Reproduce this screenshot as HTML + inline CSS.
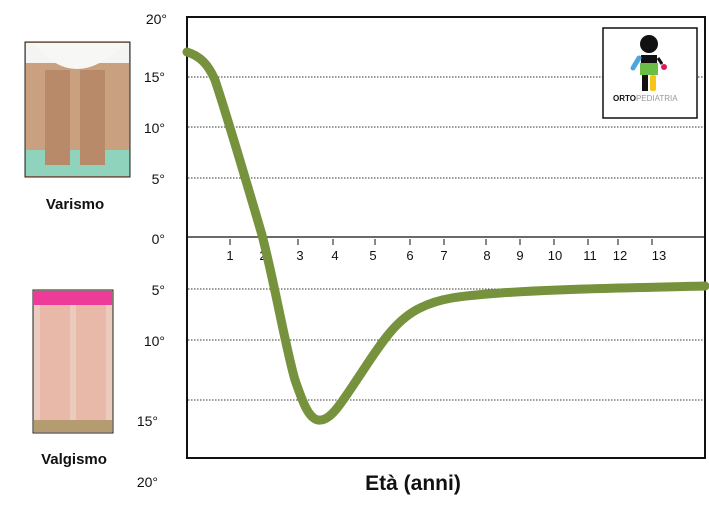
<!DOCTYPE html>
<html><head><meta charset="utf-8"><style>
body{margin:0;width:709px;height:514px;background:#fff;overflow:hidden;font-family:"Liberation Sans",sans-serif;}
</style></head><body>
<svg width="709" height="514" viewBox="0 0 709 514" xmlns="http://www.w3.org/2000/svg" font-family="Liberation Sans, sans-serif">
<!-- photo 1 -->
<rect x="25" y="42" width="105" height="135" fill="#c9a080" stroke="#222" stroke-width="1"/>
<rect x="26" y="43" width="103" height="20" fill="#f4f4f2"/>
<path d="M33 43 Q75 95 125 43 Z" fill="#f7f7f5"/>
<rect x="26" y="150" width="103" height="26" fill="#8fd3bd"/>
<rect x="45" y="70" width="25" height="95" fill="#b98a6a"/>
<rect x="80" y="70" width="25" height="95" fill="#b98a6a"/>
<text x="75" y="209" font-size="15" font-weight="bold" text-anchor="middle" fill="#111">Varismo</text>
<!-- photo 2 -->
<rect x="33" y="290" width="80" height="143" fill="#eacbbd" stroke="#222" stroke-width="1"/>
<rect x="34" y="291" width="78" height="14" fill="#ee3b9a"/>
<rect x="34" y="420" width="78" height="12" fill="#b59b70"/>
<rect x="40" y="305" width="30" height="115" fill="#e8b9a8"/>
<rect x="76" y="305" width="30" height="115" fill="#e8b9a8"/>
<text x="74" y="464" font-size="15" font-weight="bold" text-anchor="middle" fill="#111">Valgismo</text>
<!-- grid -->
<g stroke="#333" stroke-width="1" stroke-dasharray="1.5,1.5">
<line x1="188" y1="77" x2="705" y2="77"/><line x1="188" y1="127" x2="705" y2="127"/><line x1="188" y1="178" x2="705" y2="178"/>
<line x1="188" y1="289" x2="705" y2="289"/><line x1="188" y1="340" x2="705" y2="340"/><line x1="188" y1="400" x2="705" y2="400"/>
</g>
<line x1="188" y1="237" x2="705" y2="237" stroke="#111" stroke-width="1.2"/>
<rect x="187" y="17" width="518" height="441" fill="none" stroke="#111" stroke-width="2"/>
<g stroke="#111" stroke-width="1">
<line x1="230" y1="239" x2="230" y2="245"/><line x1="263" y1="239" x2="263" y2="245"/><line x1="298" y1="239" x2="298" y2="245"/><line x1="333" y1="239" x2="333" y2="245"/><line x1="375" y1="239" x2="375" y2="245"/><line x1="410" y1="239" x2="410" y2="245"/><line x1="444" y1="239" x2="444" y2="245"/><line x1="486" y1="239" x2="486" y2="245"/><line x1="520" y1="239" x2="520" y2="245"/><line x1="554" y1="239" x2="554" y2="245"/><line x1="588" y1="239" x2="588" y2="245"/><line x1="618" y1="239" x2="618" y2="245"/><line x1="652" y1="239" x2="652" y2="245"/>
</g>
<g font-size="13" text-anchor="middle" fill="#111">
<text x="230" y="260">1</text><text x="263" y="260">2</text><text x="300" y="260">3</text><text x="335" y="260">4</text><text x="373" y="260">5</text><text x="410" y="260">6</text><text x="444" y="260">7</text><text x="487" y="260">8</text><text x="520" y="260">9</text><text x="555" y="260">10</text><text x="590" y="260">11</text><text x="620" y="260">12</text><text x="659" y="260">13</text>
</g>
<g font-size="14" fill="#111" text-anchor="end">
<text x="167" y="24">20°</text><text x="165" y="82">15°</text><text x="165" y="133">10°</text><text x="165" y="184">5°</text><text x="165" y="244">0°</text><text x="165" y="295">5°</text><text x="165" y="346">10°</text><text x="158" y="426">15°</text><text x="158" y="487">20°</text>
</g>
<text x="413" y="490" font-size="21" font-weight="bold" text-anchor="middle" fill="#111">Età (anni)</text>
<!-- curve -->
<path d="M187 52 C200 56 208 64 215 80 C225 110 240 160 262 235 C275 285 285 345 295 380 C302 400 308 418 318 420 C330 422 340 405 360 375 C380 345 395 320 420 308 C440 298 460 296 500 293 C560 289 620 288 705 286" fill="none" stroke="#76923c" stroke-width="9" stroke-linecap="round"/>
<!-- logo -->
<rect x="603" y="28" width="94" height="90" fill="#fff" stroke="#111" stroke-width="1.5"/>
<circle cx="649" cy="44" r="9" fill="#111"/>
<rect x="641" y="55" width="16" height="18" fill="#111"/>
<rect x="640" y="63" width="18" height="12" fill="#6cbd45"/>
<line x1="639" y1="58" x2="633" y2="68" stroke="#4aa6dc" stroke-width="5" stroke-linecap="round"/>
<line x1="658" y1="58" x2="662" y2="64" stroke="#111" stroke-width="3"/>
<circle cx="664" cy="67" r="3" fill="#d81b60"/>
<rect x="642" y="75" width="6" height="16" fill="#111"/>
<rect x="650" y="75" width="6" height="16" rx="2" fill="#f5c518"/>
<text x="613" y="101" font-size="8" font-weight="bold" fill="#111">ORTO<tspan font-weight="normal" fill="#999">PEDIATRIA</tspan></text>
</svg>
</body></html>
